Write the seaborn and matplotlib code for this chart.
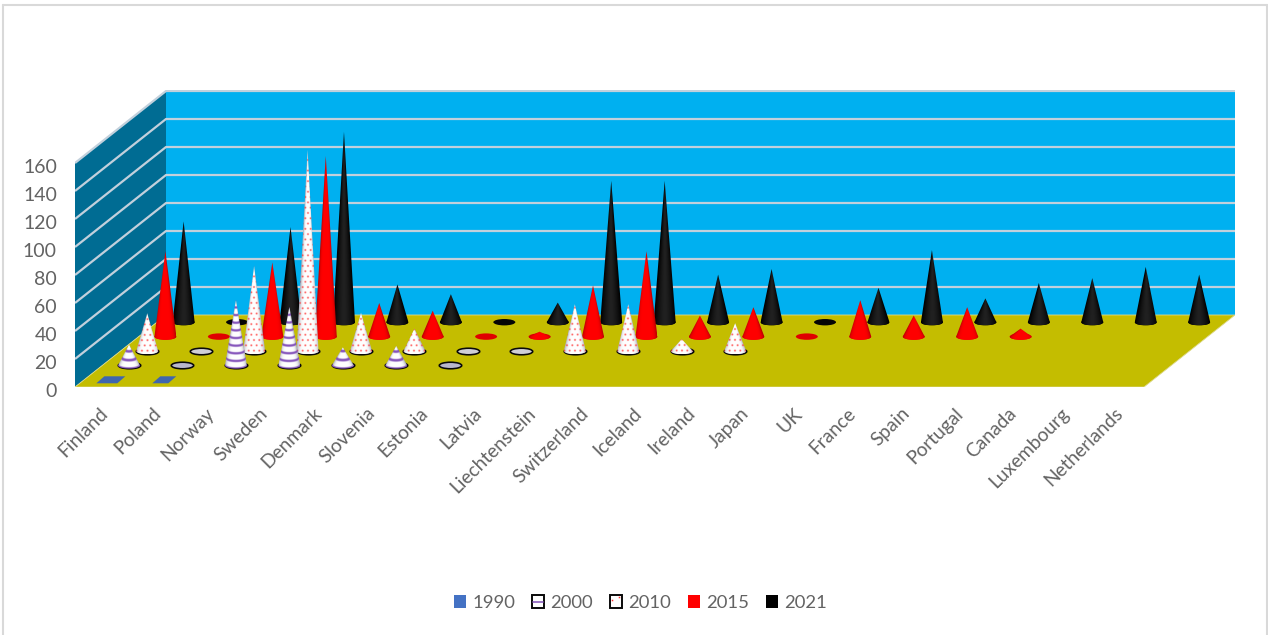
import numpy as np
import pandas as pd
import matplotlib
matplotlib.use("Agg")
import matplotlib.pyplot as plt
import seaborn as sns
from matplotlib.legend_handler import HandlerBase
from matplotlib.lines import Line2D
from matplotlib.markers import MarkerStyle
from matplotlib.patches import PathPatch, Polygon, Rectangle
from matplotlib.path import Path
from matplotlib.transforms import Affine2D, ScaledTranslation

countries = ["Finland", "Poland", "Norway", "Sweden", "Denmark", "Slovenia", "Estonia",
             "Latvia", "Liechtenstein", "Switzerland", "Iceland", "Ireland", "Japan", "UK",
             "France", "Spain", "Portugal", "Canada", "Luxembourg", "Netherlands"]
nan = np.nan
y1990 = [0.3, 0.2] + [nan] * 18
y2000 = [15, 0.5, 47, 42, 13, 14, 0.5] + [nan] * 13
y2010 = [27, 0.5, 61, 144, 27.5, 16, 0.7, 0.8, 33.5, 33.5, 8.5, 20] + [nan] * 8
y2015 = [61, 0.3, 53, 129, 24, 18.5, 0.3, 3.5, 36.5, 61, 15, 21, 0.3, 26, 15, 21, 5.7] + [nan] * 3
y2021 = [72, 0.3, 68, 136, 27, 20, 0.3, 14, 101, 101, 34, 38, 0.3, 24.5, 51.5, 17, 28, 31.5, 39.5, 34]
years = ["1990", "2000", "2010", "2015", "2021"]
value_ticks = list(range(0, 161, 20))

WIDTH, HEIGHT, DPI = 1268, 635, 100
PX_CAT = 53.45        # pixels per category along the floor
PX_VAL = 1.4          # pixels per value unit
DEPTH_X = 91 / PX_CAT / 5   # sideways shift per series, in category units
DEPTH_Y = 72 / PX_VAL / 5   # upward shift per series, in value units
TEXT = "#636363"
BLUE, WALL, FLOOR, GRID = "#00B0F0", "#006C93", "#C4BD00", "#C2D0DC"

sns.set_theme(style="white")
plt.rcParams["font.family"] = ["Lato", "DejaVu Sans"]

records = pd.DataFrame({"country": countries, "1990": y1990, "2000": y2000, "2010": y2010,
                        "2015": y2015, "2021": y2021})
long = records.melt(id_vars="country", var_name="year", value_name="value").dropna()
long["cat"] = long["country"].map({c: i for i, c in enumerate(countries)})
long["series"] = long["year"].map({y: i for i, y in enumerate(years)})
long["bx"] = long["cat"] + 0.5 + (long["series"] + 0.5) * DEPTH_X
long["by"] = (long["series"] + 0.5) * DEPTH_Y

fig = plt.figure(figsize=(WIDTH / DPI, HEIGHT / DPI), dpi=DPI, facecolor="white")
ax = fig.add_axes([75 / WIDTH, (HEIGHT - 387) / HEIGHT, 1160 / WIDTH, 297 / HEIGHT])
ax.set_xlim(0, 1160 / PX_CAT)
ax.set_ylim(0, 297 / PX_VAL)
ax.set_autoscale_on(False)
ax.patch.set_visible(False)
for spine in ax.spines.values():
    spine.set_visible(False)

# Walls and floor of the oblique box
n = len(countries)
dx, dy = DEPTH_X * 5, DEPTH_Y * 5
top = value_ticks[-1]
ax.add_patch(Polygon([(dx, dy), (n + dx, dy), (n + dx, dy + top), (dx, dy + top)], fc=BLUE, ec="none", zorder=1))
ax.add_patch(Polygon([(0, 0), (dx, dy), (dx, dy + top), (0, top)], fc=WALL, ec="none", zorder=1))
ax.add_patch(Polygon([(0, 0), (n, 0), (n + dx, dy), (dx, dy)], fc=FLOOR, ec="#DDD98A", lw=0.6, zorder=2))
for v in value_ticks[1:]:
    ax.plot([0, dx, n + dx], [v, v + dy, v + dy], color=GRID, lw=1.6, zorder=1.5, solid_capstyle="butt")

ELL_B = 3.2
R_PX = 11.0
disc_marker = MarkerStyle(Path.unit_circle().transformed(Affine2D().scale(1, ELL_B / 11)))
disc_styles = {
    "2021": dict(color="#050505", edgecolor="none", linewidth=0, s=251),
    "2015": dict(color="#E00000", edgecolor="none", linewidth=0, s=251),
    "2010": dict(color="#CFCFD6", edgecolor="#0A0A0A", linewidth=1.15, s=262),
    "2000": dict(color="#B9B7CC", edgecolor="#0A0A0A", linewidth=1.15, s=262),
}


def cone_image(height_px, year):
    """Shaded RGB texture for one cone, sampled at three samples per pixel."""
    ss = 3
    rows = max(int((height_px + ELL_B) * ss), 4)
    cols = int(2 * R_PX * ss)
    p = np.linspace(-ELL_B, height_px, rows)[:, None]
    x = np.linspace(-R_PX, R_PX, cols)[None, :]
    t = np.clip(p / max(height_px, 0.1), 0, 1)
    u = np.clip(x / (R_PX * np.maximum(1 - t, 0.02)), -1, 1)
    if year == "2015":
        s = 1 - np.abs(u) ** 5
        edge, mid = np.array([0.74, 0, 0]), np.array([1.0, 0, 0])
    elif year == "2021":
        s = 1 - np.abs(u) ** 1.5
        edge, mid = np.array([0, 0, 0]), np.array([0.13, 0.13, 0.13])
    else:
        s = 1 - np.abs(u) ** 5
        edge, mid = np.array([0.70, 0.70, 0.74]), np.array([1.0, 1.0, 1.0])
    img = edge + (mid - edge) * s[..., None]
    if year == "2000":
        zeta = p + ELL_B * (1 - t) * np.sqrt(1 - u ** 2)
        phase = np.mod(zeta - 0.4, 7.3)
        band = np.clip(1.6 - np.minimum(phase, 7.3 - phase), 0, 1)[..., None] * 0.95
        img = img + (np.array([0.50, 0.30, 0.72]) - img) * band
    elif year == "2010":
        row = np.round(p / 5.3)
        offset = np.mod(row, 2) * 2.7
        xx = x - offset
        d = np.hypot(xx - np.round(xx / 5.4) * 5.4, p - row * 5.3)
        dots = np.clip(1.4 - d, 0, 1)[..., None] * 0.75
        img = img + (np.array([1.0, 0.1, 0.1]) - img) * dots
    return img


def draw_cone(bx, by, value, year, zorder):
    rx = R_PX / PX_CAT
    ry = ELL_B / PX_VAL
    theta = np.linspace(0, np.pi, 40)
    arc = np.column_stack([bx + rx * np.cos(theta), by - ry * np.sin(theta)])
    verts = np.vstack([[bx, by + value], arc, [bx, by + value]])
    clip = PathPatch(Path(verts, closed=True), transform=ax.transData)
    img = ax.imshow(cone_image(value * PX_VAL, year), origin="lower", aspect="auto",
                    extent=[bx - rx, bx + rx, by - ry, by + value], zorder=zorder)
    img.set_clip_path(clip)


# Draw the series from the back of the box to the front so nearer cones overlap farther ones
for year in reversed(years):
    subset = long[long["year"] == year]
    z = 10 + (4 - years.index(year)) * 2
    if year == "1990":
        half = {0: 10.5 / PX_CAT, 1: 8 / PX_CAT}
        for _, row in subset.iterrows():
            h = half[row["cat"]]
            skew = 4 / PX_CAT
            ry = 3.5 / PX_VAL
            ax.add_patch(Polygon([(row["bx"] - h - skew, row["by"] - ry), (row["bx"] + h - skew, row["by"] - ry),
                                  (row["bx"] + h + skew, row["by"] + ry), (row["bx"] - h + skew, row["by"] + ry)],
                                 fc="#3F66AE", ec="none", zorder=z))
        continue
    sns.scatterplot(data=subset, x="bx", y="by", marker=disc_marker, ax=ax, legend=False,
                    zorder=z, clip_on=False, **disc_styles[year])
    for _, row in subset.iterrows():
        if row["value"] >= 1:
            draw_cone(row["bx"], row["by"], row["value"], year, z + 1)

# Axis labels on the front edge of the box
ax.set_xlabel("")
ax.set_ylabel("")
ax.set_yticks(value_ticks)
ax.set_yticklabels([str(v) for v in value_ticks], color=TEXT, fontsize=14)
ax.set_xticks(np.arange(n) + 0.5)
ax.set_xticklabels(countries, color=TEXT, fontsize=13.8, rotation=45, ha="right", va="center",
                   rotation_mode="anchor")
ax.tick_params(axis="y", length=0, pad=13)
ax.tick_params(axis="x", length=0, pad=17)
shift = ScaledTranslation(3 / DPI, 0, fig.dpi_scale_trans)
for lab in ax.get_xticklabels():
    lab.set_transform(lab.get_transform() + shift)
shift_y = ScaledTranslation(0, -3 / DPI, fig.dpi_scale_trans)
for lab in ax.get_yticklabels():
    lab.set_transform(lab.get_transform() + shift_y)


class Swatch(HandlerBase):
    def __init__(self, face, edge, extra):
        super().__init__()
        self.face, self.edge, self.extra = face, edge, extra

    def create_artists(self, legend, orig, xd, yd, w, h, fontsize, trans):
        box = Rectangle((-xd, -yd), w, h, fc=self.face, ec=self.edge,
                        lw=1.4 if self.edge != "none" else 0, transform=trans)
        arts = [box]
        if self.extra == "stripe":
            arts.append(Line2D([-xd + 1, -xd + w - 1], [-yd + h / 2] * 2, color="#8B5FBF", lw=1.2, transform=trans))
        elif self.extra == "dots":
            arts.append(Line2D([-xd + 0.15 * w, -xd + 0.75 * w], [-yd + 0.6 * h, -yd + 0.85 * h], color="#FF3030",
                               ls="none", marker="s", ms=1.1, mew=0, transform=trans))
        return arts


handles = [Rectangle((0, 0), 1, 1) for _ in years]
handler_map = {
    handles[0]: Swatch("#4472C4", "none", None),
    handles[1]: Swatch("white", "#0A0A0A", "stripe"),
    handles[2]: Swatch("white", "#0A0A0A", "dots"),
    handles[3]: Swatch("#FF0000", "none", None),
    handles[4]: Swatch("#000000", "none", None),
}
fig.legend(handles, years, handler_map=handler_map, ncol=5, frameon=False, loc="center",
           bbox_to_anchor=(640.5 / WIDTH, (HEIGHT - 603) / HEIGHT), fontsize=13.3, labelcolor=TEXT,
           handlelength=0.65, handleheight=0.65, handletextpad=0.34, columnspacing=0.92, borderpad=0,
           borderaxespad=0)

# Chart-area border on the top and two sides
for xs, ys in [((3, 3), (5, 635)), ((3, 1267), (5, 5)), ((1267, 1267), (5, 635))]:
    fig.add_artist(Line2D([x / WIDTH for x in xs], [1 - y / HEIGHT for y in ys], color="#D9D9D9", lw=1.5,
                          transform=fig.transFigure))

fig.savefig("out.png", dpi=DPI, facecolor="white")
